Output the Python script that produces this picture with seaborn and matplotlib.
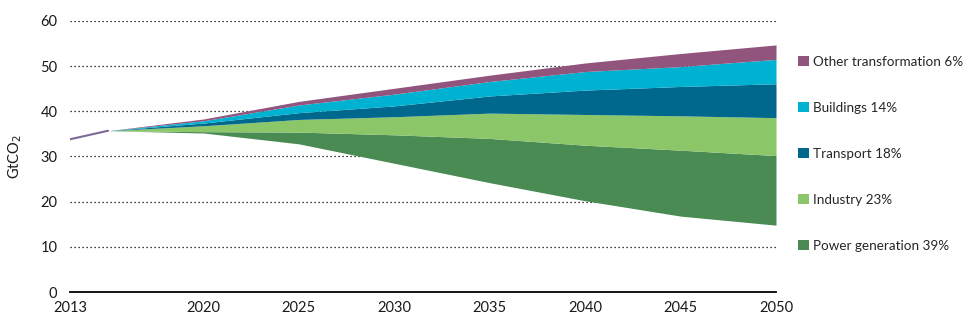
import numpy as np
import matplotlib
matplotlib.use("Agg")
import matplotlib.pyplot as plt
import seaborn as sns
from matplotlib.patches import Patch

# Emissions pathway (GtCO2) and abatement by sector on top of it
years = [2013, 2015, 2020, 2025, 2030, 2035, 2040, 2045, 2050]
remaining = [33.8, 35.7, 35.2, 32.8, 28.5, 24.2, 20.2, 16.8, 14.8]
power = [0.0, 0.0, 0.3, 2.6, 6.3, 9.8, 12.3, 14.6, 15.4]
industry = [0.0, 0.0, 1.3, 2.8, 4.0, 5.6, 6.8, 7.6, 8.4]
transport = [0.0, 0.0, 0.6, 1.5, 2.4, 3.8, 5.4, 6.5, 7.5]
buildings = [0.0, 0.0, 0.5, 1.7, 2.6, 3.2, 4.1, 4.4, 5.4]
other = [0.0, 0.0, 0.4, 0.8, 1.3, 1.4, 1.9, 2.9, 3.2]

sectors = ["Power generation 39%", "Industry 23%", "Transport 18%",
           "Buildings 14%", "Other transformation 6%"]
colors = ["#4A8A53", "#8BC668", "#00688C", "#00B2D2", "#91557D"]
xticks = [2013, 2020, 2025, 2030, 2035, 2040, 2045, 2050]
yticks = [0, 10, 20, 30, 40, 50, 60]

sns.set_style("white")
plt.rcParams["font.family"] = ["Lato", "DejaVu Sans"]

fig = plt.figure(figsize=(9.7, 3.25), dpi=100)
ax = fig.add_axes([0.072, 0.1015, 0.728, 0.834])

x = np.array(years, dtype=float)
base = np.array(remaining, dtype=float)
for vals, col in zip([power, industry, transport, buildings, other], colors):
    top = base + np.array(vals, dtype=float)
    ax.fill_between(x, base, top, color=col, linewidth=0, zorder=3)
    base = top

# historical segment before the scenarios diverge
hist = x <= 2015
sns.lineplot(x=x[hist], y=base[hist], color="#7E6A9A", linewidth=1.5,
             ax=ax, zorder=4, legend=False)

ax.set_xlim(2013, 2050)
ax.set_ylim(0, 60)
ax.set_xticks(xticks)
ax.set_yticks(yticks)
ax.set_xlabel("")
ax.tick_params(axis="both", length=0, labelsize=10.5, colors="#1a1a1a")
ax.tick_params(axis="y", pad=9)
ax.tick_params(axis="x", pad=6.5)

for v in yticks[1:]:
    ax.axhline(v, color="black", linewidth=0.9, linestyle=(0, (1, 2.2)), zorder=1)

for s in ["top", "right", "left"]:
    ax.spines[s].set_visible(False)
ax.spines["bottom"].set_color("black")
ax.spines["bottom"].set_linewidth(1.3)
ax.spines["bottom"].set_zorder(5)

ax.set_ylabel("GtCO$_2$", fontsize=10.5, labelpad=12, color="#1a1a1a")

handles = [Patch(facecolor=c, edgecolor="none") for c in colors][::-1]
labels = sectors[::-1]
fig.legend(handles, labels, loc="upper left", bbox_to_anchor=(0.823, 0.829),
           frameon=False, fontsize=9.7, handlelength=0.78, handleheight=0.78,
           handletextpad=0.3, labelspacing=2.53, borderaxespad=0, borderpad=0)

fig.savefig("out.png", dpi=100)
